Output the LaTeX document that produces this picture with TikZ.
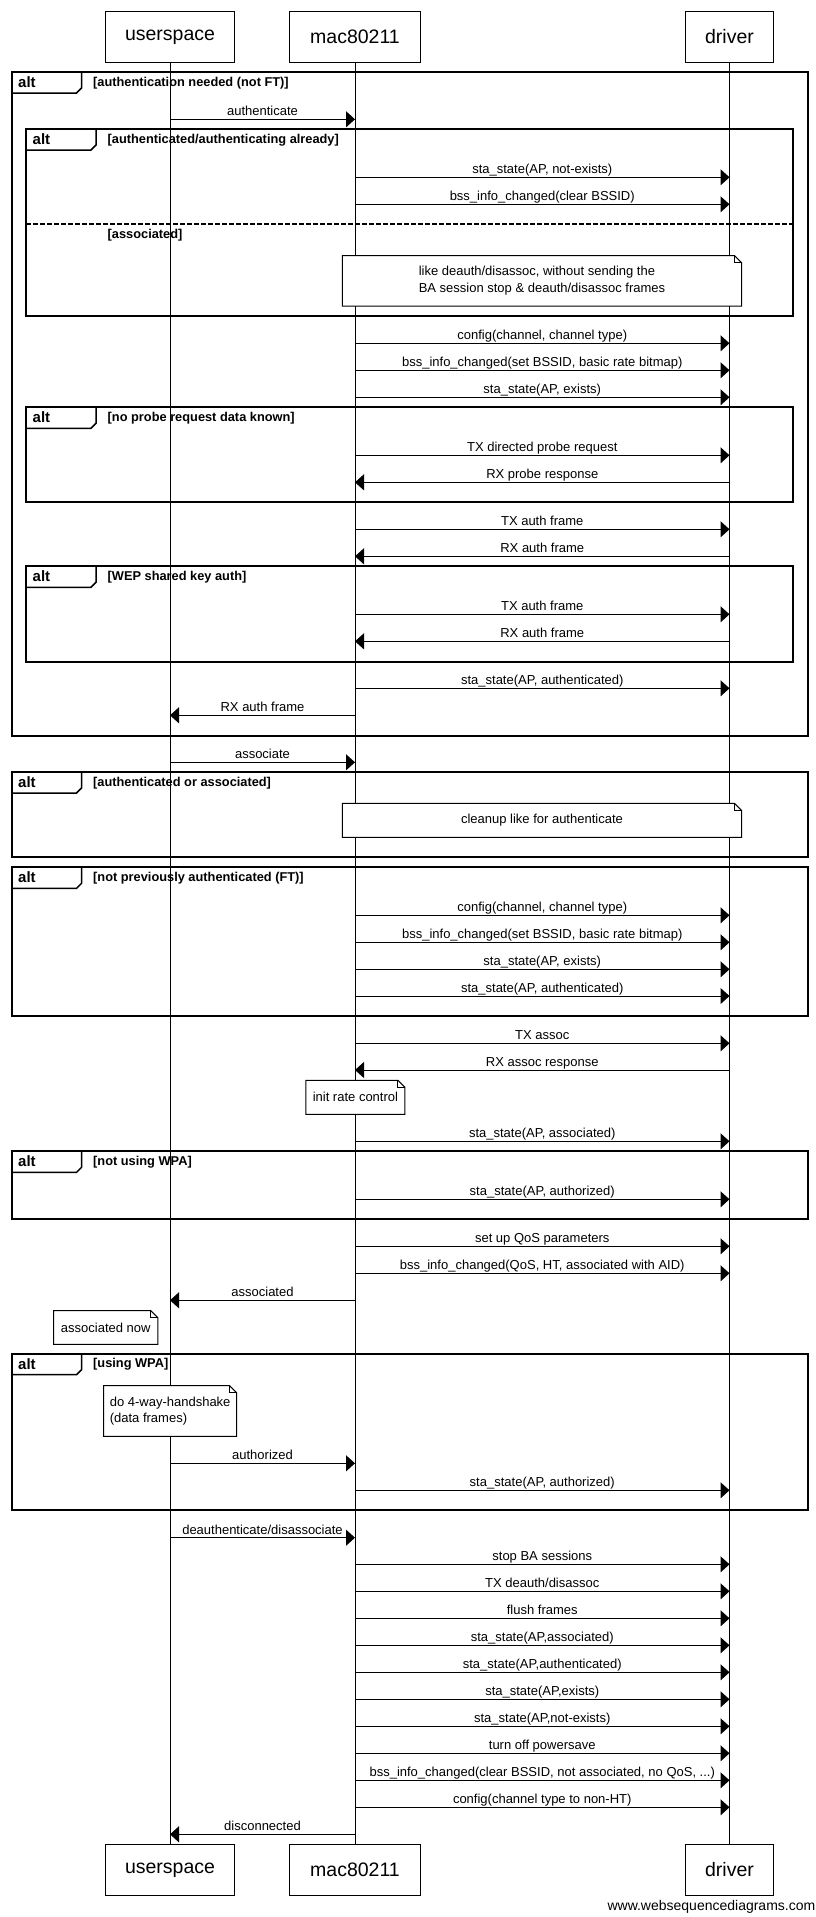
\documentclass[tikz,border=0pt]{standalone}
\usepackage{fontspec}
\setmainfont{Liberation Sans}
\usetikzlibrary{arrows.meta}
\newcounter{mc}
\newcounter{fc}
\def\xu{170}\def\xm{355}\def\xd{729.5}
\newcommand\msg[4]{%
  \stepcounter{mc}%
  \coordinate (p\arabic{mc}) at (#1,#3);
  \coordinate (q\arabic{mc}) at (#2,#3);
  \draw[msgline] (p\arabic{mc}) -- node[msglabel] (lab\arabic{mc}) {#4} (q\arabic{mc});
}
\newcommand\altfr[5]{%
  \stepcounter{fc}%
  \draw[frameline] (#1,#2) rectangle (#3,#4);
  \draw[tabline] (#1,{#2+21}) -- ({#1+65},{#2+21}) -- ({#1+70},{#2+16}) -- ({#1+70},#2);
  \node[alttext] (alt\arabic{fc}) at ({#1+6.5},{#2+15.3}) {alt};
  \node[condtext] (cond\arabic{fc}) at ({#1+81.5},{#2+14}) {[#5]};
}
\newcommand\mynote[6]{%
  \draw[noteline] (#2,#3) -- ({#4-7},#3) -- (#4,{#3+7}) -- (#4,#5) -- (#2,#5) -- cycle;
  \draw[noteline,fill=none] ({#4-7},#3) -- ({#4-7},{#3+7}) -- (#4,{#3+7});
  \node[notetext] (#1) at ({(#2+#4)/2},{(#3+#5)/2}) {#6};
}
\begin{document}
\begin{tikzpicture}[x=1pt,y=-1pt,
  part/.style={draw, fill=white, line width=1pt, minimum height=50.6pt, inner sep=0pt,
    font=\fontsize{19.5}{22}\selectfont},
  lifeline/.style={line width=1pt},
  msgline/.style={line width=1pt, -{Triangle[length=9pt,width=16pt]}},
  msglabel/.style={font=\fontsize{13}{15}\selectfont, anchor=base, inner sep=0pt, yshift=3.5pt},
  frameline/.style={line width=2pt},
  tabline/.style={line width=1.5pt},
  dashline/.style={line width=1.5pt, dash pattern=on 5pt off 2pt},
  alttext/.style={font=\fontsize{15}{18}\selectfont\bfseries, anchor=base west, inner sep=0pt},
  condtext/.style={font=\fontsize{12.8}{15}\selectfont\bfseries, anchor=base west, inner sep=0pt},
  noteline/.style={line width=1pt, fill=white},
  notetext/.style={font=\fontsize{13}{16.6}\selectfont, align=left, inner sep=0pt}
]
\useasboundingbox (0,0) rectangle (816,1917);
\fill[white] (0,0) rectangle (816,1917);

% participants
\node[part, minimum width=129.7pt] (ut) at (\xu,37) {userspace};
\node[part, minimum width=131.3pt] (mt) at (\xm,37) {mac80211};
\node[part, minimum width=88.6pt] (dt) at (\xd,37) {driver};
\node[part, minimum width=129.7pt] (ub) at (\xu,1869.8) {userspace};
\node[part, minimum width=131.3pt] (mb) at (\xm,1869.8) {mac80211};
\node[part, minimum width=88.6pt] (db) at (\xd,1869.8) {driver};

% lifelines
\draw[lifeline] (ut.south) -- (ub.north);
\draw[lifeline] (mt.south) -- (mb.north);
\draw[lifeline] (dt.south) -- (db.north);

% frames
\altfr{11.5}{72}{808.3}{735.7}{authentication needed (not FT)}
\altfr{26}{129}{793}{316}{authenticated/authenticating already}
\draw[dashline] (26,224) -- (793,224);
\node[condtext] (elsecond) at (107.5,238) {[associated]};
\altfr{26}{407.3}{793}{502.3}{no probe request data known}
\altfr{26}{566.3}{793}{661.7}{WEP shared key auth}
\altfr{11.5}{772}{808.3}{857.3}{authenticated or associated}
\altfr{11.5}{867.3}{808.3}{1016.3}{not previously authenticated (FT)}
\altfr{11.5}{1151.3}{808.3}{1219.3}{not using WPA}
\altfr{11.5}{1353.7}{808.3}{1510.3}{using WPA}

% messages
\msg{\xu}{\xm}{119.3}{authenticate}
\msg{\xm}{\xd}{177.3}{sta\_state(AP, not-exists)}
\msg{\xm}{\xd}{204.3}{bss\_info\_changed(clear BSSID)}
\msg{\xm}{\xd}{343.3}{config(channel, channel type)}
\msg{\xm}{\xd}{370.3}{bss\_info\_changed(set BSSID, basic rate bitmap)}
\msg{\xm}{\xd}{397.3}{sta\_state(AP, exists)}
\msg{\xm}{\xd}{455.3}{TX directed probe request}
\msg{\xd}{\xm}{482.3}{RX probe response}
\msg{\xm}{\xd}{529.3}{TX auth frame}
\msg{\xd}{\xm}{556.3}{RX auth frame}
\msg{\xm}{\xd}{614.3}{TX auth frame}
\msg{\xd}{\xm}{641.3}{RX auth frame}
\msg{\xm}{\xd}{688.3}{sta\_state(AP, authenticated)}
\msg{\xm}{\xu}{715.3}{RX auth frame}
\msg{\xu}{\xm}{762.3}{associate}
\msg{\xm}{\xd}{915.3}{config(channel, channel type)}
\msg{\xm}{\xd}{942.3}{bss\_info\_changed(set BSSID, basic rate bitmap)}
\msg{\xm}{\xd}{969.3}{sta\_state(AP, exists)}
\msg{\xm}{\xd}{996}{sta\_state(AP, authenticated)}
\msg{\xm}{\xd}{1043.3}{TX assoc}
\msg{\xd}{\xm}{1070}{RX assoc response}
\msg{\xm}{\xd}{1141.3}{sta\_state(AP, associated)}
\msg{\xm}{\xd}{1199.3}{sta\_state(AP, authorized)}
\msg{\xm}{\xd}{1246.3}{set up QoS parameters}
\msg{\xm}{\xd}{1273.3}{bss\_info\_changed(QoS, HT, associated with AID)}
\msg{\xm}{\xu}{1300.3}{associated}
\msg{\xu}{\xm}{1463.3}{authorized}
\msg{\xm}{\xd}{1490.3}{sta\_state(AP, authorized)}
\msg{\xu}{\xm}{1537.7}{deauthenticate/disassociate}
\msg{\xm}{\xd}{1564.3}{stop BA sessions}
\msg{\xm}{\xd}{1591.3}{TX deauth/disassoc}
\msg{\xm}{\xd}{1618.3}{flush frames}
\msg{\xm}{\xd}{1645.3}{sta\_state(AP,associated)}
\msg{\xm}{\xd}{1672.3}{sta\_state(AP,authenticated)}
\msg{\xm}{\xd}{1699.3}{sta\_state(AP,exists)}
\msg{\xm}{\xd}{1726.3}{sta\_state(AP,not-exists)}
\msg{\xm}{\xd}{1753.3}{turn off powersave}
\msg{\xm}{\xd}{1780.3}{bss\_info\_changed(clear BSSID, not associated, no QoS, ...)}
\msg{\xm}{\xd}{1807.3}{config(channel type to non-HT)}
\msg{\xm}{\xu}{1834.3}{disconnected}

% notes
\mynote{n1}{342.4}{255.7}{741.5}{306}{like deauth/disassoc, without sending the\\BA session stop \& deauth/disassoc frames}
\mynote{n2}{342.4}{803.3}{741.5}{837.3}{cleanup like for authenticate}
\mynote{n3}{305.9}{1080.3}{404.9}{1114.3}{init rate control}
\mynote{n4}{53.7}{1310.7}{157.9}{1344.3}{associated now}
\mynote{n5}{103.7}{1385.7}{236.6}{1436.3}{do 4-way-handshake\\(data frames)}

% watermark
\node[font=\fontsize{14}{16}\selectfont, anchor=base east, inner sep=0pt] (wm) at (815.5,1910) {www.websequencediagrams.com};
\end{tikzpicture}
\end{document}
